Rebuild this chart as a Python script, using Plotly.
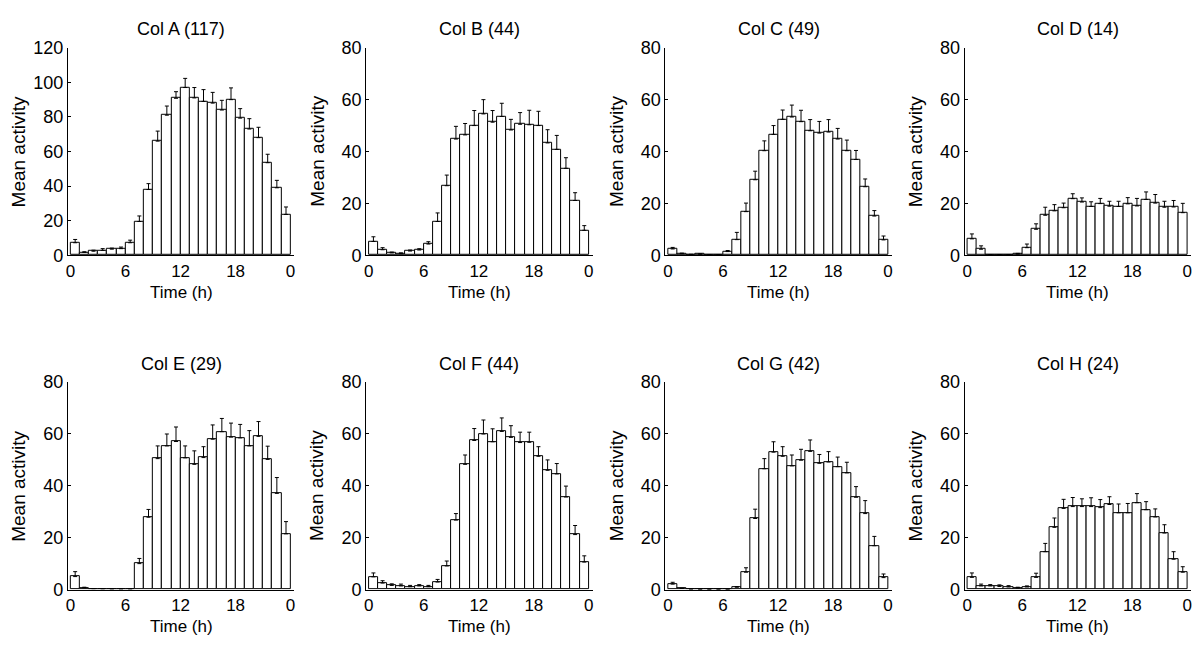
import plotly.graph_objects as go

hours = list(range(24))
tick_vals = [0, 6, 12, 18, 24]
tick_text = ["0", "6", "12", "18", "0"]

titles = ["Col A (117)", "Col B (44)", "Col C (49)", "Col D (14)",
          "Col E (29)", "Col F (44)", "Col G (42)", "Col H (24)"]

col_a = [7.2, 1.6, 2.3, 2.8, 3.5, 3.8, 7.2, 19.5, 38, 66, 81, 90.8, 97, 91, 89, 88, 84, 90, 79.3, 73, 68, 53.5, 39, 23.6]
col_a_err = [1.9, 0.4, 0.6, 1.0, 0.6, 0.9, 1.5, 3.2, 3.4, 5.8, 5.3, 3.8, 5.3, 6.0, 6.8, 6.2, 5.6, 6.8, 5.5, 6.0, 6.0, 4.9, 4.3, 4.3]

col_b = [5.3, 2.1, 0.9, 0.6, 1.6, 2.0, 4.3, 13, 26.8, 44.8, 46.4, 50, 54.5, 51.3, 53.5, 48.3, 50.5, 50.3, 50, 43.3, 40.8, 33.5, 21.1, 9.6]
col_b_err = [1.8, 0.8, 0.3, 0.3, 0.4, 0.5, 0.9, 3.3, 4.1, 4.9, 4.4, 5.8, 5.5, 4.5, 5.1, 4.1, 4.5, 5.6, 5.5, 5.1, 5.4, 4.1, 3.0, 1.8]

col_c = [2.4, 0.6, 0.25, 0.4, 0.1, 0.1, 1.4, 6, 16.8, 29.1, 40.3, 46.6, 52.4, 53.3, 51.5, 48, 47.1, 47.5, 44.8, 40.3, 36.9, 26.4, 15.1, 5.9]
col_c_err = [0.6, 0.2, 0.1, 0.1, 0.1, 0.1, 0.4, 2.8, 3.3, 3.3, 3.8, 3.4, 3.6, 4.6, 4.4, 4.3, 4.5, 4.8, 4.1, 4.1, 3.5, 3.0, 2.1, 1.5]

col_d = [6.3, 2.3, 0.1, 0.1, 0.1, 0.4, 2.9, 10, 15.4, 17.1, 18.3, 21.8, 20.5, 18.8, 19.9, 18.9, 18.8, 19.8, 19, 21.5, 20.1, 18.5, 18.6, 16.4]
col_d_err = [1.9, 1.3, 0.1, 0.1, 0.1, 0.3, 1.4, 2.1, 3.1, 2.4, 1.8, 1.9, 1.6, 1.8, 2.0, 1.9, 2.0, 2.4, 2.9, 2.9, 3.3, 2.3, 2.5, 3.6]

col_e = [5, 0.7, 0.3, 0.25, 0.2, 0.2, 0.2, 10, 27.9, 50.5, 55.4, 57.1, 50.8, 48.3, 50.9, 58, 60.9, 58.8, 58.5, 55.4, 59.1, 50.2, 37.1, 21.5]
col_e_err = [1.9, 0.2, 0.1, 0.1, 0.1, 0.1, 0.1, 2.0, 3.0, 4.9, 4.6, 5.6, 4.6, 5.2, 4.2, 5.5, 5.1, 5.4, 5.2, 5.9, 5.7, 5.1, 6.1, 4.7]

col_f = [4.9, 2.5, 1.6, 1.4, 1.1, 1.4, 1.1, 2.9, 9.1, 26.8, 48.3, 57.5, 60, 57, 61, 58.7, 56.7, 56.8, 51.4, 46, 44.6, 35.7, 21.2, 10.6]
col_f_err = [1.5, 0.9, 0.6, 0.7, 0.5, 0.5, 0.5, 1.0, 1.9, 2.5, 3.6, 4.6, 5.4, 5.0, 5.2, 4.5, 4.0, 3.9, 3.7, 4.0, 4.0, 4.2, 3.5, 2.4]

col_g = [2.1, 0.4, 0.1, 0.05, 0.05, 0.05, 0.05, 0.9, 6.7, 27.4, 46.6, 53, 51.4, 47.7, 49.9, 53.3, 48.7, 49.2, 47.4, 45, 35.6, 29.3, 16.9, 4.6]
col_g_err = [0.7, 0.1, 0.1, 0.05, 0.05, 0.05, 0.05, 0.2, 1.7, 3.6, 3.9, 4.0, 3.7, 4.2, 4.2, 4.4, 3.4, 4.0, 3.7, 4.1, 4.1, 5.0, 3.6, 1.4]

col_h = [4.7, 1.4, 1.4, 1.2, 1, 0.6, 1, 4.7, 14.6, 24, 31.3, 32, 32, 32, 31.6, 32.8, 29.6, 29.6, 33.5, 30.8, 28, 21.8, 11.7, 6.7]
col_h_err = [1.7, 0.7, 0.5, 0.6, 0.5, 0.3, 0.4, 1.6, 3.2, 3.6, 3.5, 3.5, 3.0, 3.4, 3.1, 3.0, 3.4, 3.6, 3.5, 3.1, 3.1, 3.2, 2.9, 2.1]

series = [col_a, col_b, col_c, col_d, col_e, col_f, col_g, col_h]
errors = [col_a_err, col_b_err, col_c_err, col_d_err, col_e_err, col_f_err, col_g_err, col_h_err]
y_max = [120, 80, 80, 80, 80, 80, 80, 80]

W, H = 1200, 648
FONT = "Liberation Sans, Arial, Helvetica, sans-serif"
left_px = [66, 365, 665, 965]
panel_w = 227
rows_px = [(39, 253), (384, 598)]  # (top, bottom)

fig = go.Figure()
layout = dict(
    width=W, height=H, paper_bgcolor="white", plot_bgcolor="white",
    margin=dict(l=0, r=0, t=0, b=0), showlegend=False,
    font=dict(family=FONT, size=17, color="black"),
    bargap=0, annotations=[],
)

for i in range(8):
    r, c = divmod(i, 4)
    xa = "x" if i == 0 else f"x{i+1}"
    ya = "y" if i == 0 else f"y{i+1}"
    xkey = "xaxis" if i == 0 else f"xaxis{i+1}"
    ykey = "yaxis" if i == 0 else f"yaxis{i+1}"
    x0 = left_px[c] / W
    x1 = (left_px[c] + panel_w) / W
    top, bot = rows_px[r]
    y0 = 1 - bot / H
    y1 = 1 - top / H

    fig.add_trace(go.Bar(
        x=hours, y=series[i], width=1, offset=0,
        marker=dict(color="white", line=dict(color="black", width=1)),
        error_y=dict(type="data", array=errors[i], arrayminus=[0] * 24,
                     symmetric=False, color="black", thickness=1, width=2),
        xaxis=xa, yaxis=ya, hoverinfo="skip",
    ))
    layout[xkey] = dict(
        domain=[x0, x1], range=[-0.3, 24.4], anchor=ya,
        tickvals=tick_vals, ticktext=tick_text,
        showline=True, linecolor="black", linewidth=1,
        ticks="", showgrid=False, zeroline=False,
        tickfont=dict(size=17, family=FONT, color="black"),
    )
    layout[ykey] = dict(
        domain=[y0, y1], range=[0, y_max[i]], anchor=xa,
        tickvals=list(range(0, y_max[i] + 1, 20)),
        showline=True, linecolor="black", linewidth=1,
        ticks="inside", ticklen=3, tickcolor="black",
        showgrid=False, zeroline=False,
        tickfont=dict(size=18, family=FONT, color="black"),
    )
    cx = (left_px[c] + panel_w / 2) / W
    layout["annotations"].append(dict(
        text=titles[i], x=cx, y=1 - (top - 19) / H, xref="paper", yref="paper",
        xanchor="center", yanchor="middle", showarrow=False,
        font=dict(size=18, family=FONT, color="black")))
    layout["annotations"].append(dict(
        text="Time (h)", x=cx, y=1 - (bot + 38) / H, xref="paper", yref="paper",
        xanchor="center", yanchor="middle", showarrow=False,
        font=dict(size=17, family=FONT, color="black")))
    layout["annotations"].append(dict(
        text="Mean activity", x=(left_px[c] - 49) / W, y=1 - (top + bot) / 2 / H,
        xref="paper", yref="paper", textangle=-90,
        xanchor="center", yanchor="middle", showarrow=False,
        font=dict(size=19, family=FONT, color="black")))

fig.update_layout(**layout)
fig.write_html("out.html", config={"displayModeBar": False},
               post_script="document.body.style.margin='0';document.body.style.overflow='hidden';")
